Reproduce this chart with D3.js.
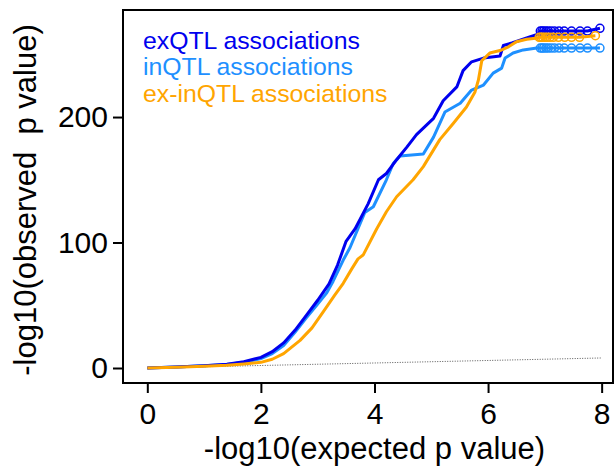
<!DOCTYPE html>
<html>
<head>
<meta charset="utf-8">
<script src="https://cdn.jsdelivr.net/npm/d3@7"></script>
<style>
  body { margin: 0; background: #fff; }
  svg { display: block; font-family: "Liberation Sans", Arial, sans-serif; }
</style>
</head>
<body>
<svg width="615" height="468"></svg>
<script>
// QQ data: x = -log10(expected p), y = -log10(observed p)
var exX = [0, 0.5, 1.0, 1.4, 1.7, 2.0, 2.2, 2.4, 2.6, 2.8, 3.0, 3.2, 3.35, 3.5, 3.66, 3.89, 4.07, 4.21, 4.39, 4.57, 4.74, 5.04, 5.21, 5.45, 5.56, 5.71, 5.92, 6.21, 6.27, 6.42, 6.68, 6.88];
var exY = [0, 0.8, 1.8, 3, 5, 8.5, 13, 20, 30, 42, 54, 67, 82, 101, 111, 131, 150, 155, 166, 176, 186, 199, 213, 224, 237, 244, 247, 248.6, 257, 259, 263, 266];
var exPtX = [6.92, 6.95, 6.98, 7.02, 7.06, 7.11, 7.17, 7.25, 7.34, 7.47, 7.62, 7.75, 7.97];
var exPtY = [268.5, 268.5, 268.5, 268.5, 268.5, 268.5, 268.5, 268.5, 268.5, 268.5, 268.5, 268.5, 270.7];

var inX = [0, 0.5, 1.0, 1.4, 1.7, 2.0, 2.2, 2.4, 2.6, 2.8, 3.0, 3.16, 3.27, 3.45, 3.57, 3.83, 3.98, 4.21, 4.33, 4.45, 4.86, 5.04, 5.24, 5.51, 5.71, 5.92, 6.09, 6.24, 6.30, 6.44, 6.62, 6.86];
var inY = [0, 0.8, 1.7, 2.8, 4.5, 7.5, 11.5, 18, 28.5, 40, 51, 60, 69, 86, 96, 124, 128.5, 150, 163, 169, 170.5, 184, 204, 211, 221.5, 225.5, 235, 239, 247, 251, 253.5, 255];
var inPtX = [6.92, 6.95, 6.98, 7.02, 7.06, 7.11, 7.17, 7.25, 7.34, 7.47, 7.62, 7.75, 7.97];
var inPtY = [255, 255, 255, 255, 255, 255, 255, 255, 255, 255, 255, 255, 255];

var exinX = [0, 0.5, 1.0, 1.4, 1.7, 2.0, 2.2, 2.4, 2.69, 2.9, 3.10, 3.3, 3.45, 3.6, 3.71, 3.80, 4.04, 4.21, 4.39, 4.68, 4.86, 5.15, 5.39, 5.62, 5.77, 5.83, 5.89, 6.03, 6.21, 6.36, 6.50, 6.68, 6.88];
var exinY = [0, 0.6, 1.4, 2.2, 3.2, 4.5, 7, 11.5, 22, 32, 45, 58, 67.5, 79, 87, 90, 111, 124.5, 136.5, 150, 160.5, 182, 195, 208, 220, 229.5, 245, 251, 253, 256, 260, 262, 263];
var exinPtX = [6.90, 6.93, 6.96, 7.00, 7.04, 7.09, 7.15, 7.24, 7.35, 7.47, 7.61, 7.89];
var exinPtY = [263.5, 263.5, 263.5, 263.5, 263.5, 263.5, 263.5, 263.5, 263.5, 263.5, 263.5, 264.8];

// y = x reference
var refX = [0, 8];
var refY = [0, 8];

var seriesNames = ["exQTL associations", "inQTL associations", "ex-inQTL associations"];
var seriesColors = ["#0000EE", "#1E90FF", "#FFA500"];

var xTicks = [0, 2, 4, 6, 8];
var yTicks = [0, 100, 200];

var svg = d3.select("svg");

var plotLeft = 123, plotRight = 613, plotTop = 10, plotBottom = 383;

var xScale = d3.scaleLinear()
    .domain([-0.428, 8.2])
    .range([plotLeft, plotRight]);

var yScale = d3.scaleLinear()
    .domain([-11.95, 285.3])
    .range([plotBottom, plotTop]);

var zip = function(xs, ys) {
  return xs.map(function(d, i) { return {x: d, y: ys[i]}; });
};

var line = d3.line()
    .x(function(d) { return xScale(d.x); })
    .y(function(d) { return yScale(d.y); });

// reference diagonal
svg.append("path")
    .datum(zip(refX, refY))
    .attr("d", line)
    .attr("fill", "none")
    .attr("stroke", "#555")
    .attr("stroke-width", 1)
    .attr("stroke-dasharray", "1,1.5");

var series = [
  {line: zip(exX, exY), pts: zip(exPtX, exPtY)},
  {line: zip(inX, inY), pts: zip(inPtX, inPtY)},
  {line: zip(exinX, exinY), pts: zip(exinPtX, exinPtY)}
];

// in first, then ex, ex-in on top
[1, 0, 2].forEach(function(k) {
  var s = series[k];
  var all = s.line.concat(s.pts);
  svg.append("path")
      .datum(all)
      .attr("d", line)
      .attr("fill", "none")
      .attr("stroke", seriesColors[k])
      .attr("stroke-width", 3)
      .attr("stroke-linejoin", "round");

  svg.append("g")
    .selectAll("circle")
    .data(s.pts)
    .join("circle")
      .attr("cx", function(d) { return xScale(d.x); })
      .attr("cy", function(d) { return yScale(d.y); })
      .attr("r", 4)
      .attr("fill", "none")
      .attr("stroke", seriesColors[k])
      .attr("stroke-width", 1.5);
});

// axes
var xAxis = svg.append("g")
    .attr("transform", "translate(0," + plotBottom + ")")
    .call(d3.axisBottom(xScale).tickValues(xTicks).tickSize(10).tickPadding(10));

var yAxis = svg.append("g")
    .attr("transform", "translate(" + plotLeft + ",0)")
    .call(d3.axisLeft(yScale).tickValues(yTicks).tickSize(10).tickPadding(5));

[xAxis, yAxis].forEach(function(a) {
  a.select(".domain").remove();
  a.selectAll("line").attr("stroke", "#000").attr("stroke-width", 2);
  a.selectAll("text")
      .attr("fill", "#000")
      .style("font-family", "'Liberation Sans', Arial, sans-serif")
      .style("font-size", "30px");
});

// frame
svg.append("rect")
    .attr("x", plotLeft)
    .attr("y", plotTop)
    .attr("width", plotRight - plotLeft)
    .attr("height", plotBottom - plotTop)
    .attr("fill", "none")
    .attr("stroke", "#000")
    .attr("stroke-width", 2);

// axis titles
svg.append("text")
    .attr("x", (xScale(0) + xScale(8)) / 2)
    .attr("y", 459)
    .style("text-anchor", "middle")
    .style("font-size", "31px")
    .text("-log10(expected p value)");

svg.append("text")
    .attr("transform", "translate(36," + 200 + ") rotate(-90)")
    .style("text-anchor", "middle")
    .style("font-size", "31px")
    .style("white-space", "pre")
    .text("-log10(observed  p value)");

// legend
svg.append("g")
  .selectAll("text")
  .data(seriesNames)
  .join("text")
    .attr("x", 143)
    .attr("y", function(d, i) { return 48.5 + i * 26.5; })
    .attr("fill", function(d, i) { return seriesColors[i]; })
    .style("font-size", "24.8px")
    .text(function(d) { return d; });
</script>
</body>
</html>
